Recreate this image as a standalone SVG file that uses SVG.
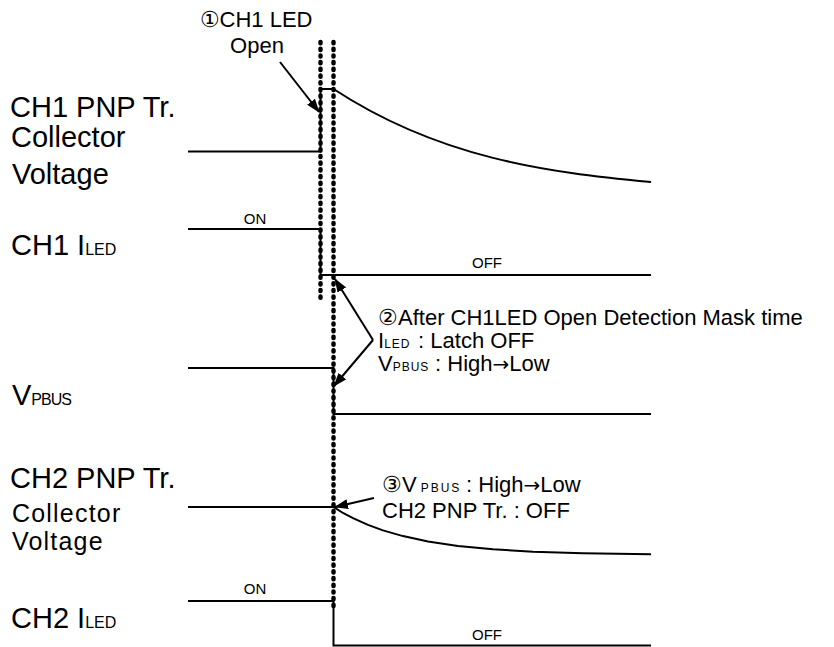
<svg xmlns="http://www.w3.org/2000/svg" width="834" height="647" viewBox="0 0 834 647">
<style>
text{font-family:"Liberation Sans",Arial,sans-serif;fill:#000}
.lbl{font-size:29px}
.sub{font-size:16px}
.cap{font-size:25px;letter-spacing:1.2px}
.note{font-size:22px}
.nsub{font-size:12px}
.ar{font-family:"DejaVu Sans",sans-serif;font-size:20px}
.st{font-size:15px}
.sig{fill:none;stroke:#000;stroke-width:2}
.dot{fill:none;stroke:#000;stroke-width:4.5;stroke-linecap:round;stroke-dasharray:1.2 5.5}
.arr{fill:none;stroke:#000;stroke-width:2}
</style>
<defs>
<marker id="ah" viewBox="0 0 14 10" refX="13" refY="5" markerWidth="14" markerHeight="10" markerUnits="userSpaceOnUse" orient="auto">
<path d="M0,0 L14,5 L0,10 Z" fill="#000"/>
</marker>
</defs>

<g id="labels">
<text class="lbl" x="10" y="117">CH1 PNP Tr.</text>
<text class="lbl" x="11" y="147">Collector</text>
<text class="lbl" x="12" y="184">Voltage</text>
<text class="lbl" x="11" y="255">CH1 I<tspan class="sub">LED</tspan></text>
<text class="lbl" x="12" y="405">V<tspan class="sub" letter-spacing="-1">PBUS</tspan></text>
<text class="lbl" x="10" y="488">CH2 PNP Tr.</text>
<text class="cap" x="12" y="522">Collector</text>
<text class="cap" x="12" y="550">Voltage</text>
<text class="lbl" x="11" y="628">CH2 I<tspan class="sub">LED</tspan></text>
</g>

<g id="ch1-collector">
<path class="sig" d="M188,151.5 H320.5 V89 H333.5 C439,158 545,172 651,182"/>
</g>
<g id="ch1-iled">
<path class="sig" d="M188,229 H320.5 V275 H651"/>
<text class="st" x="255" y="224" text-anchor="middle">ON</text>
<text class="st" x="487" y="268" text-anchor="middle">OFF</text>
</g>
<g id="vpbus">
<path class="sig" d="M188,368 H333.5 V414 H651"/>
</g>
<g id="ch2-collector">
<path class="sig" d="M188,507 H333.5 L343,513 L353,518.2 L368,524.9 L383,530.4 L403,536.1 L428,541.5 L458,545.9 L493,549.3 L533,551.7 L583,553.3 L651,554.3"/>
</g>
<g id="ch2-iled">
<path class="sig" d="M188,601 H333.5 V645.5 H651"/>
<text class="st" x="255" y="594" text-anchor="middle">ON</text>
<text class="st" x="487" y="640" text-anchor="middle">OFF</text>
</g>

<g id="connectors">
<line class="dot" x1="320.5" y1="42" x2="320.5" y2="301"/>
<line class="dot" x1="333.5" y1="42" x2="333.5" y2="606"/>
<line class="arr" x1="280" y1="62" x2="319" y2="112" marker-end="url(#ah)"/>
<line class="arr" x1="373" y1="340" x2="335" y2="279" marker-end="url(#ah)"/>
<line class="arr" x1="373" y1="340" x2="334" y2="386" marker-end="url(#ah)"/>
<line class="arr" x1="374" y1="498" x2="335" y2="507" marker-end="url(#ah)"/>
</g>

<g id="note1">
<text class="note" x="256" y="27" text-anchor="middle">①CH1 LED</text>
<text class="note" x="257" y="53" text-anchor="middle" font-size="21">Open</text>
</g>
<g id="note2">
<text class="note" x="378" y="325">②After CH1LED Open Detection Mask time</text>
<text class="note" x="378" y="348">I<tspan class="nsub" letter-spacing="1">LED</tspan><tspan x="412"> : Latch OFF</tspan></text>
<text class="note" x="378" y="371">V<tspan class="nsub" letter-spacing="1">PBUS</tspan><tspan x="429"> : High<tspan class="ar">→</tspan>Low</tspan></text>
</g>
<g id="note3">
<text class="note" x="382" y="492">③V<tspan class="nsub" letter-spacing="2" dx="4">PBUS</tspan><tspan x="460"> : High<tspan class="ar">→</tspan>Low</tspan></text>
<text class="note" x="382" y="518">CH2 PNP Tr. : OFF</text>
</g>
</svg>
